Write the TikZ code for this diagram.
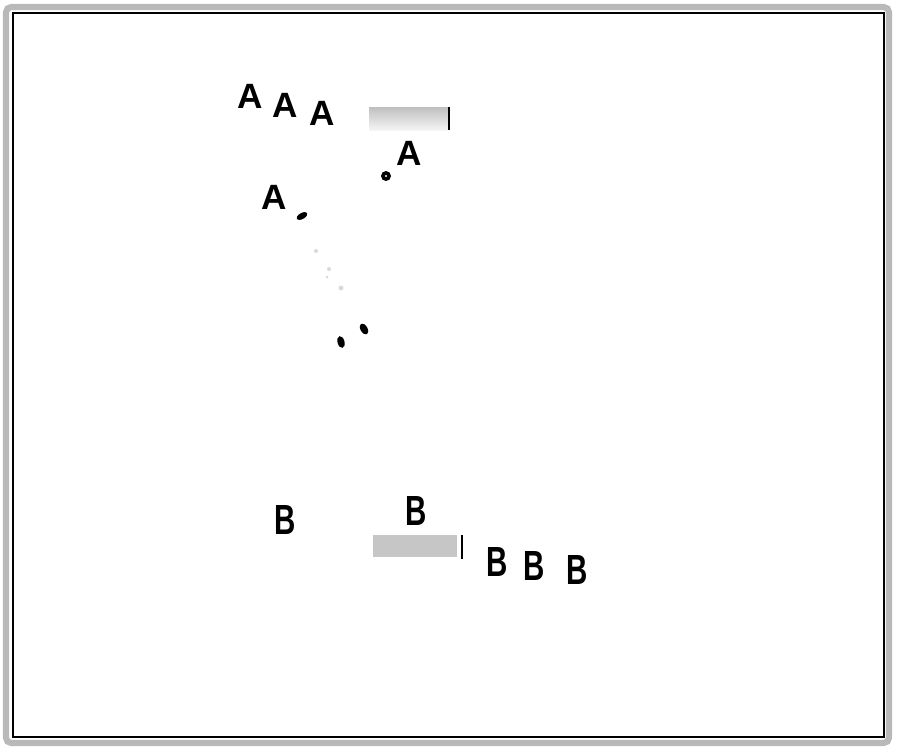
\documentclass[tikz,border=0pt]{standalone}
\usepackage{fontspec}
\setmainfont{Liberation Sans}
\begin{document}
\begin{tikzpicture}[x=0.02cm,y=-0.02cm,
    lbla/.style={font=\fontsize{20}{22}\selectfont\bfseries,inner sep=0pt},
    lblb/.style={font=\fontsize{24}{26}\selectfont\bfseries,inner sep=0pt},
    blob/.style={fill=black}]
  \useasboundingbox (0,0) rectangle (900,752);
  % frame
  \draw[gray!55,line width=3.5pt,rounded corners=3pt] (6,7) rectangle (889,743);
  \draw[line width=0.6pt] (13,13) rectangle (884,737);
  % letters
  \draw
    (250,96) node[lbla] (a1){A}
    (285,105) node[lbla] (a2){A}
    (322,113) node[lbla] (a3){A}
    (409,153) node[lbla] (a4){A}
    (274,197) node[lbla] (a5){A}
    (285,520) node[lblb] (b1){\scalebox{0.7}[1]{B}}
    (416,511) node[lblb] (b2){\scalebox{0.7}[1]{B}}
    (497,562) node[lblb] (b3){\scalebox{0.7}[1]{B}}
    (534,566) node[lblb] (b4){\scalebox{0.7}[1]{B}}
    (577,570) node[lblb] (b5){\scalebox{0.7}[1]{B}};
  % bars
  \shade[top color=gray!50,bottom color=gray!8] (369,107) rectangle (448,130);
  \draw[line width=1.6pt] (449,107) -- (449,130);
  \fill[gray!45] (373,535) rectangle (457,557);
  \draw[line width=1pt] (462,535) -- (462,559);
  % dot and blobs
  \fill (386,176) circle (5);
  \fill[white] (386,176) circle (1.2);
  \fill[blob,shift={(302,216)},rotate=30] (0,0) ellipse (6 and 3);
  \fill[blob,shift={(364,329)},rotate=-60] (0,0) ellipse (6 and 3.5);
  \fill[blob,shift={(341,342)},rotate=-75] (0,0) ellipse (6 and 3.5);
  \begin{scope}[gray!30]
    \fill (316,251) circle (2);
    \fill (329,269) circle (2);
    \fill (327,277) circle (1.5);
    \fill (341,288) circle (2.5);
  \end{scope}
\end{tikzpicture}
\end{document}
